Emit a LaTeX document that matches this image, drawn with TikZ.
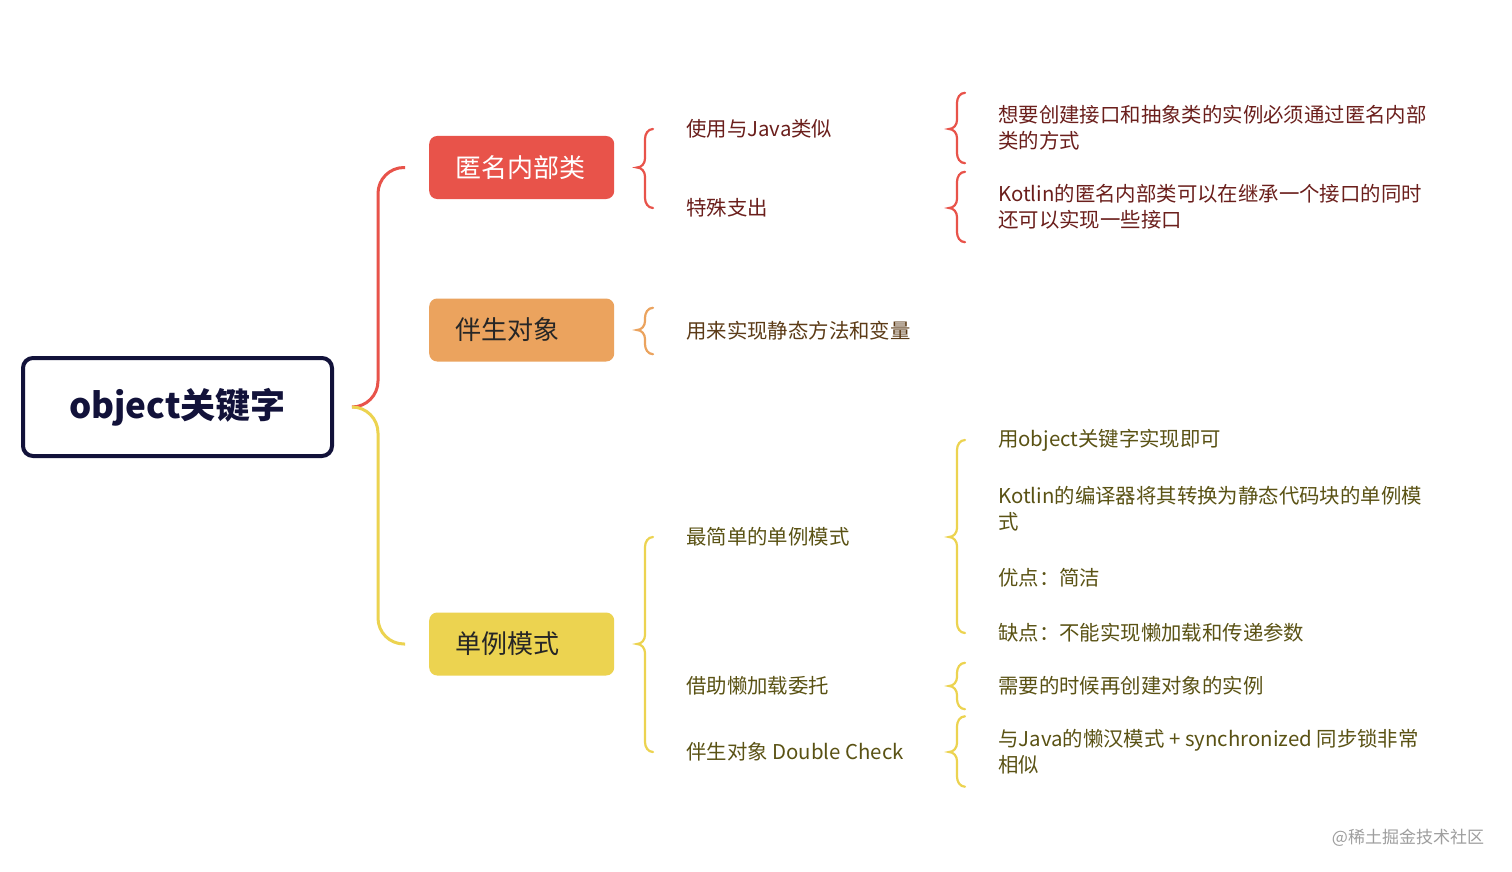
\documentclass[tikz,border=0pt]{standalone}
\usepackage{fontspec}
\setmainfont{Noto Sans CJK SC}
\usetikzlibrary{positioning, calc}
\definecolor{navy}{HTML}{12123A}
\definecolor{redc}{HTML}{E8534A}
\definecolor{orc}{HTML}{EBA35E}
\definecolor{yelc}{HTML}{ECD350}
\definecolor{redtxt}{HTML}{6B1F1C}
\definecolor{ortxt}{HTML}{5C3B17}
\definecolor{yeltxt}{HTML}{5A5214}
\tikzset{
  rootbox/.style={draw=navy, line width=4, rounded corners=10, fill=white,
    minimum width=309, minimum height=98, text=navy,
    font=\fontsize{35}{40}\selectfont\bfseries},
  topicbox/.style={anchor=west, rounded corners=8, minimum height=63,
    text width=133, inner xsep=26, align=left, font=\fontsize{26}{30}\selectfont},
  leaf/.style={anchor=west, inner sep=0, minimum height=46, align=left,
    font=\fontsize{20.4}{26}\selectfont},
  tall/.style={minimum height=70},
  branch/.style={line width=3, rounded corners=26},
  bracel/.style={line width=2.2, line cap=round}
}
\newcommand{\mbrace}[4]{%
  \draw[bracel, #1] let \p1=#2, \p2=#3, \p3=#4 in
    (\x2+16pt,\y1) to[out=180,in=90] (\x2+8pt,\y1-10pt) -- (\x2+8pt,\y2+9pt)
    to[out=-90,in=0] (\p2) to[out=0,in=90] (\x2+8pt,\y2-9pt) -- (\x2+8pt,\y3+10pt)
    to[out=-90,in=180] (\x2+16pt,\y3);}

\begin{document}
\begin{tikzpicture}[x=1pt, y=-1pt]
  \useasboundingbox (0,0) rectangle (1512,872);
  \fill[white] (0,0) rectangle (1512,872);

  % root and topics
  \node[rootbox] (root) at (177.5,407) {object关键字};
  \node[topicbox, fill=redc, text=white] (anon) at (429,167.5) {匿名内部类};
  \node[topicbox, fill=orc, text=black!85] (comp) at (429,330) {伴生对象};
  \node[topicbox, fill=yelc, text=black!85] (single) at (429,644) {单例模式};

  \coordinate (hub) at ($(root.east)+(18,0)$);
  \coordinate (spine) at (378,0);
  \draw[branch, redc] (hub) -| (spine |- anon) -- ($(anon.west)+(-24,0)$);
  \draw[branch, yelc] (hub) -| (spine |- single) -- ($(single.west)+(-24,0)$);

  % second level
  \node[leaf, text=redtxt] (k11) at (686,129) {使用与Java类似};
  \node[leaf, text=redtxt] (k12) at (686,208) {特殊支出};
  \node[leaf, text=ortxt] (k21) at (686,331) {用来实现静态方法和变量};
  \node[leaf, text=yeltxt] (k31) at (686,537) {最简单的单例模式};
  \node[leaf, text=yeltxt] (k32) at (686,686) {借助懒加载委托};
  \node[leaf, text=yeltxt] (k33) at (686,752) {伴生对象 Double Check};

  % third level
  \node[leaf, tall, text=redtxt] (g111) at (998,128) {想要创建接口和抽象类的实例必须通过匿名内部\\类的方式};
  \node[leaf, tall, text=redtxt] (g121) at (998,207) {Kotlin的匿名内部类可以在继承一个接口的同时\\还可以实现一些接口};
  \node[leaf, text=yeltxt] (g311) at (998,440) {用object关键字实现即可};
  \node[leaf, tall, text=yeltxt] (g312) at (998,509) {Kotlin的编译器将其转换为静态代码块的单例模\\式};
  \node[leaf, text=yeltxt] (g313) at (998,578) {优点：简洁};
  \node[leaf, text=yeltxt] (g314) at (998,633) {缺点：不能实现懒加载和传递参数};
  \node[leaf, text=yeltxt] (g321) at (998,686) {需要的时候再创建对象的实例};
  \node[leaf, tall, text=yeltxt] (g331) at (998,751.5) {与Java的懒汉模式 + synchronized 同步锁非常\\相似};

  % braces
  \coordinate (col1) at (637,0);
  \coordinate (col2) at (949,0);
  \mbrace{redc}{(col1 |- k11)}{(col1 |- anon)}{(col1 |- k12)}
  \mbrace{orc}{(col1 |- k21.north)}{(col1 |- comp)}{(col1 |- k21.south)}
  \mbrace{yelc}{(col1 |- k31)}{(col1 |- single)}{(col1 |- k33)}
  \mbrace{redc}{(col2 |- g111.north)}{(col2 |- k11)}{(col2 |- g111.south)}
  \mbrace{redc}{(col2 |- g121.north)}{(col2 |- k12)}{(col2 |- g121.south)}
  \mbrace{yelc}{(col2 |- g311)}{(col2 |- k31)}{(col2 |- g314)}
  \mbrace{yelc}{(col2 |- g321.north)}{(col2 |- k32)}{(col2 |- g321.south)}
  \mbrace{yelc}{(col2 |- g331.north)}{(col2 |- k33)}{(col2 |- g331.south)}

  \node[text=black!38, font=\fontsize{17}{20}\selectfont] (mark) at (1408,838) {@稀土掘金技术社区};
\end{tikzpicture}
\end{document}
